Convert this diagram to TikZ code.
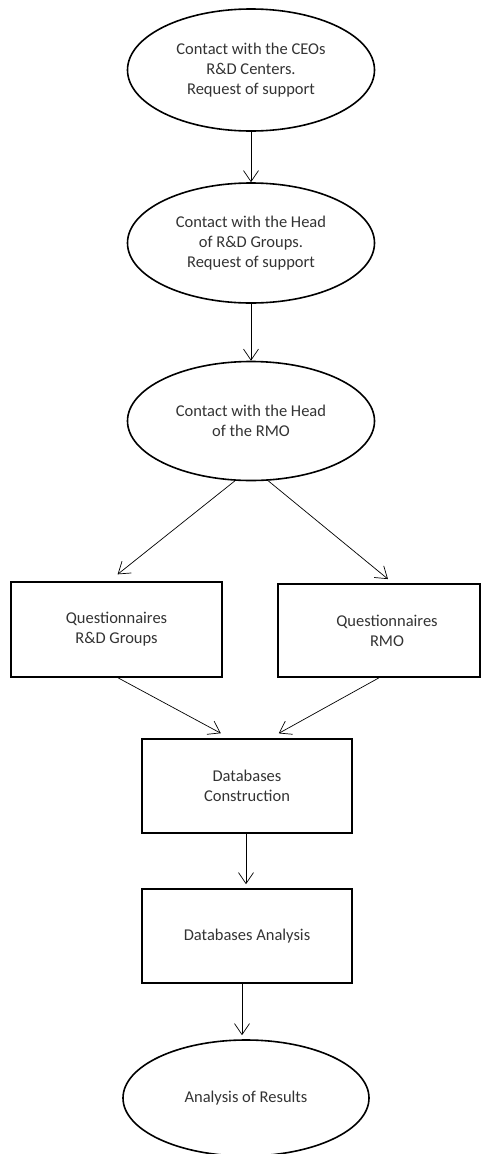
\documentclass[tikz,border=0pt]{standalone}
\usepackage{fontspec}
\setmainfont{Carlito}
\usetikzlibrary{shapes.geometric,arrows.meta}
\definecolor{txt}{HTML}{333333}
\tikzset{
  every node/.style={font=\fontsize{16.5}{20}\selectfont, text=txt, align=center, inner sep=0pt},
  oval/.style={draw, ellipse, line width=1.6pt},
  box/.style={draw, rectangle, line width=1.6pt},
  flow/.style={line width=0.7pt, -{Straight Barb[length=11pt,width=15pt,line width=0.7pt]}}
}
\begin{document}
\begin{tikzpicture}[x=1pt,y=-1pt]
\useasboundingbox (0,0) rectangle (481,1154);
\node[oval, minimum width=247, minimum height=122] (e1) at (251,70) {Contact with the CEOs\\R\&D Centers.\\Request of support};
\node[oval, minimum width=247, minimum height=120] (e2) at (251,243) {Contact with the Head\\of R\&D Groups.\\Request of support};
\node[oval, minimum width=247, minimum height=119] (e3) at (251,421) {Contact with the Head\\of the RMO};
\node[box, minimum width=211, minimum height=95] (r1) at (116.5,629.5) {Questionnaires\\R\&D Groups};
\node[box, minimum width=202, minimum height=93, label={[name=r2t, xshift=8pt]center:Questionnaires\\RMO}] (r2) at (379,630.5) {};
\node[box, minimum width=210, minimum height=94] (r3) at (247,786) {Databases\\Construction};
\node[box, minimum width=210, minimum height=94] (r4) at (247,936) {Databases Analysis};
\node[oval, minimum width=246, minimum height=116] (e4) at (246,1098) {Analysis of Results};

\draw[flow] (e1.south) -- (e2.north);
\draw[flow] (e2.south) -- (e3.north);
\draw[flow, shorten >=11pt] (e3.-105) -- ([xshift=-7.5]r1.north);
\draw[flow, shorten >=6.5pt] (e3.-74) -- ([xshift=14]r2.north);
\draw[flow, shorten >=10.5pt] ([xshift=1.5]r1.south) -- ([xshift=-17]r3.north);
\draw[flow, shorten >=10pt] (r2.south) -- ([xshift=23]r3.north);
\draw[flow, shorten >=4pt] ([xshift=-1]r3.south) -- ([xshift=-1]r4.north);
\draw[flow, shorten >=4pt] ([xshift=-5]r4.south) -- ([xshift=-4]e4.north);
\end{tikzpicture}
\end{document}
